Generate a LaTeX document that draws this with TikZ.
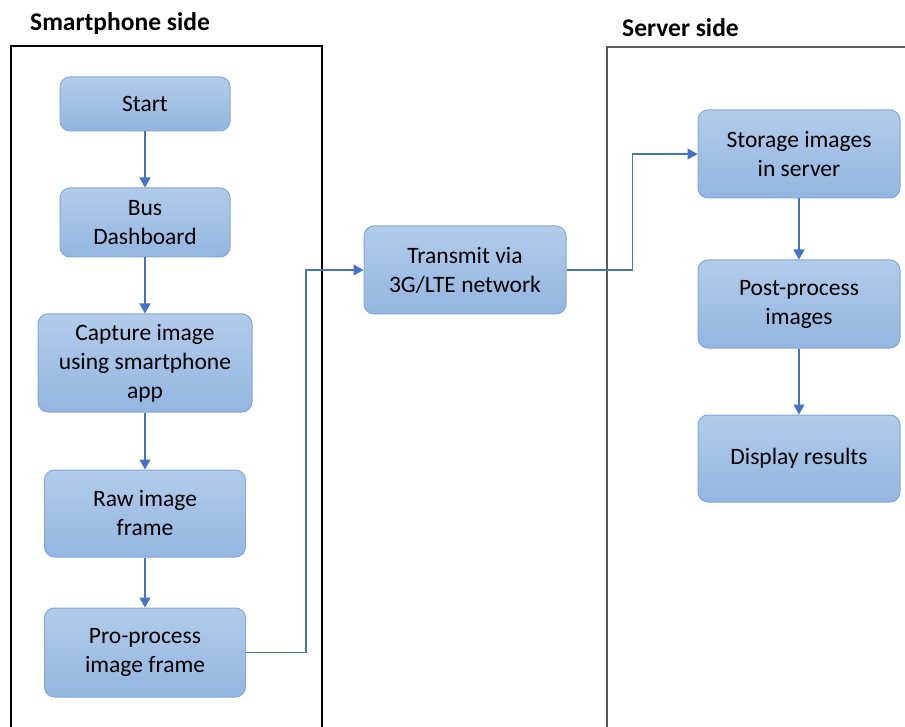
\documentclass[tikz,border=0pt]{standalone}
\usepackage{fontspec}
\setmainfont{Carlito}
\usetikzlibrary{positioning, arrows.meta}
\definecolor{boxtop}{HTML}{B2CCEA}
\definecolor{boxbottom}{HTML}{93B5E0}
\definecolor{boxline}{HTML}{84A8D8}
\definecolor{flowblue}{HTML}{4472C4}
\tikzstyle{stepbox} = [rectangle, rounded corners=10pt, draw=boxline, line width=1pt, top color=boxtop, bottom color=boxbottom, align=center, inner sep=2pt, font=\fontsize{23.5}{29}\selectfont]
\tikzstyle{arrow} = [draw=flowblue, line width=1.2pt, -{Triangle[length=10pt, width=11pt]}]
\tikzstyle{sidetitle} = [anchor=base west, inner sep=0pt, font=\fontsize{25.5}{30}\selectfont\bfseries]
\tikzstyle{phoneframe} = [draw=black, line width=2pt]
\tikzstyle{serverframe} = [draw=black!65, line width=1.5pt]

\begin{document}
\begin{tikzpicture}[x=1pt, y=-1pt, node distance=56pt]

  \useasboundingbox (0,0) rectangle (905,727);

  % Side frames (open at the bottom)
  \draw[phoneframe] (11,727) -- (11,46) -- (322,46) -- (322,727);
  \draw[serverframe] (607,727) -- (607,47) -- (905,47);

  % Side titles
  \node (phonetitle) [sidetitle] at (30,31) {Smartphone side};
  \node (servertitle) [sidetitle] at (622,37) {Server side};

  % Smartphone steps
  \node (start) [stepbox, minimum width=170pt, minimum height=54pt] at (145,104) {Start};
  \node (dash) [stepbox, minimum width=170pt, minimum height=69pt, below=of start] {Bus\\Dashboard};
  \node (capture) [stepbox, minimum width=214pt, minimum height=98pt, below=of dash] {Capture image\\using smartphone\\app};
  \node (raw) [stepbox, minimum width=201pt, minimum height=87pt, below=57pt of capture] {Raw image\\frame};
  \node (preproc) [stepbox, minimum width=201pt, minimum height=89pt, below=50pt of raw] {Pro-process\\image frame};

  % Network
  \node (transmit) [stepbox, minimum width=202pt, minimum height=88pt] at (465,270) {Transmit via\\3G/LTE network};

  % Server steps
  \node (storage) [stepbox, minimum width=202pt, minimum height=88pt] at (799,154) {Storage images\\in server};
  \node (postproc) [stepbox, minimum width=202pt, minimum height=88pt, below=61pt of storage] {Post-process\\images};
  \node (display) [stepbox, minimum width=202pt, minimum height=87pt, below=66pt of postproc] {Display results};

  % Arrows
  \draw[arrow] (start) -- (dash);
  \draw[arrow] (dash) -- (capture);
  \draw[arrow] (capture) -- (raw);
  \draw[arrow] (raw) -- (preproc);
  \draw[arrow] (preproc.east) -- ++(60,0) |- (transmit.west);
  \draw[arrow] (transmit.east) -- ++(66,0) |- (storage.west);
  \draw[arrow] (storage) -- (postproc);
  \draw[arrow] (postproc) -- (display);

\end{tikzpicture}
\end{document}
